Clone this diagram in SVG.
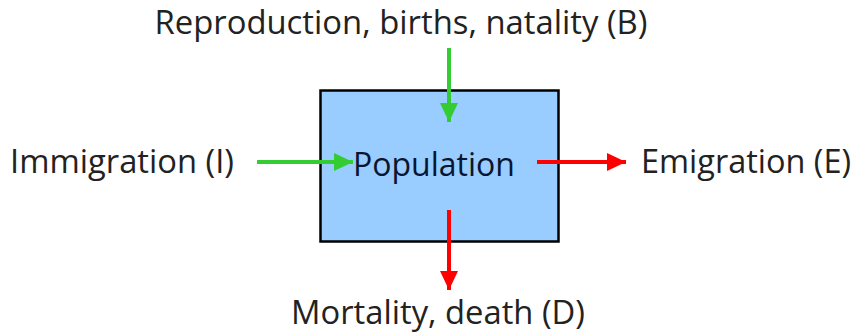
<svg xmlns="http://www.w3.org/2000/svg" width="858" height="336" viewBox="0 0 858 336">
<style>
text{font-family:"Open Sans","Liberation Sans",sans-serif;font-size:32px;fill:#222}
.g{stroke:#33CC33;stroke-width:4;fill:none}
.r{stroke:#FF0000;stroke-width:4;fill:none}
</style>
<defs>
<marker id="ag" markerUnits="userSpaceOnUse" markerWidth="20" markerHeight="18" refX="19" refY="9" orient="auto"><path d="M0,0L19,9L0,18z" fill="#33CC33"/></marker>
<marker id="ar" markerUnits="userSpaceOnUse" markerWidth="20" markerHeight="18" refX="19" refY="9" orient="auto"><path d="M0,0L19,9L0,18z" fill="#FF0000"/></marker>
</defs>
<g id="population">
<rect x="320.5" y="90.5" width="238" height="151" fill="#99CCFF" stroke="#000" stroke-width="2.5"/>
<text x="434" y="176" text-anchor="middle" style="fill:#0A1530" textLength="162" lengthAdjust="spacingAndGlyphs">Population</text>
</g>
<g id="births"><text x="401" y="34" text-anchor="middle" textLength="493" lengthAdjust="spacingAndGlyphs">Reproduction, births, natality (B)</text></g>
<g id="immigration"><text x="10" y="173" textLength="224" lengthAdjust="spacingAndGlyphs">Immigration (I)</text></g>
<g id="emigration"><text x="641" y="173" textLength="210" lengthAdjust="spacingAndGlyphs">Emigration (E)</text></g>
<g id="mortality"><text x="438" y="324" text-anchor="middle" textLength="294" lengthAdjust="spacingAndGlyphs">Mortality, death (D)</text></g>
<g id="connectors">
<line class="g" x1="449" y1="48" x2="449" y2="122" marker-end="url(#ag)"/>
<line class="g" x1="257" y1="162" x2="353" y2="162" marker-end="url(#ag)"/>
<line class="r" x1="537" y1="162" x2="626" y2="162" marker-end="url(#ar)"/>
<line class="r" x1="449" y1="210" x2="449" y2="290" marker-end="url(#ar)"/>
</g>
</svg>
